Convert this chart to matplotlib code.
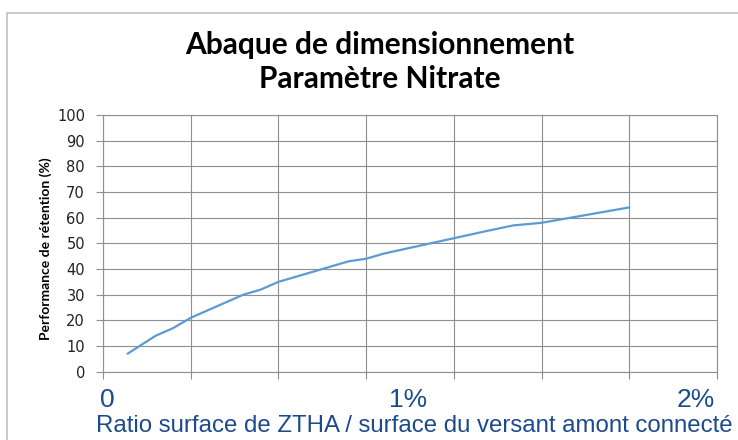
import matplotlib
matplotlib.use("Agg")
import matplotlib.pyplot as plt
from matplotlib.patches import Rectangle
import numpy as np

# ratio ZTHA / versant (%) and retention performance (%)
ratio = [0.07, 0.15, 0.20, 0.25, 0.40, 0.45, 0.50, 0.70, 0.75, 0.80, 1.00, 1.10, 1.17, 1.25, 1.50]
retention = [7, 14, 17, 21, 30, 32, 35, 43, 44, 46, 52, 55, 57, 58, 64]

x_grid = np.arange(0, 1.76, 0.25)
y_ticks = list(range(0, 101, 10))
x_labels = ["0", "1%", "2%"]
x_label_pos = [107, 408, 696]  # pixels across the figure

title = "Abaque de dimensionnement\nParamètre Nitrate"
ylabel = "Performance de rétention (%)"
xlabel = "Ratio surface de ZTHA / surface du versant amont connecté"

W, H = 738, 440
fig = plt.figure(figsize=(W / 100, H / 100), dpi=100)
ax = fig.add_axes([103 / W, 1 - 371.7 / H, (717 - 103) / W, (371.7 - 115) / H])

grid_col = "#8f8f8f"
ax.plot(ratio, retention, color="#5b9bd5", lw=1.6, solid_capstyle="round")

ax.set_xlim(0, 1.75)
ax.set_ylim(0, 100)
ax.set_xticks(x_grid)
ax.set_xticklabels([])
ax.set_yticks(y_ticks)
ax.grid(True, color=grid_col, lw=0.8)
ax.set_axisbelow(True)
for s in ax.spines.values():
    s.set_color(grid_col)
    s.set_linewidth(0.8)
ax.tick_params(axis="both", color=grid_col, length=5, width=0.8)
ax.tick_params(axis="y", labelsize=10.5, pad=8, labelcolor="#222222")
for lab in ax.get_yticklabels():
    lab.set_family("DejaVu Sans")

ax.set_ylabel(ylabel, fontsize=10, fontweight="bold", family=["Lato", "DejaVu Sans"])
ax.yaxis.set_label_coords(-0.083, 0.48)

fig.text(380 / W, 1 - 62 / H, title, ha="center", va="center", fontsize=21.5,
         fontweight="bold", family=["Lato", "DejaVu Sans"], linespacing=1.25, color="#000000")

narrow = ["Liberation Sans Narrow", "Liberation Sans", "DejaVu Sans"]
blue = "#1c4a8c"
for lbl, px in zip(x_labels, x_label_pos):
    fig.text(px / W, 1 - 400 / H, lbl, ha="center", va="center", fontsize=19,
             family=narrow, color=blue)
fig.text(96 / W, 1 - 426 / H, xlabel, ha="left", va="center", fontsize=17.3,
         family=narrow, color=blue)

# chart frame
fig.patches.append(Rectangle((7 / W, -0.1), 1.2, 1 - 13 / H + 0.1, transform=fig.transFigure,
                             fill=False, edgecolor="#c0c0c0", lw=1.2, clip_on=False))

fig.savefig("out.png", dpi=100)
